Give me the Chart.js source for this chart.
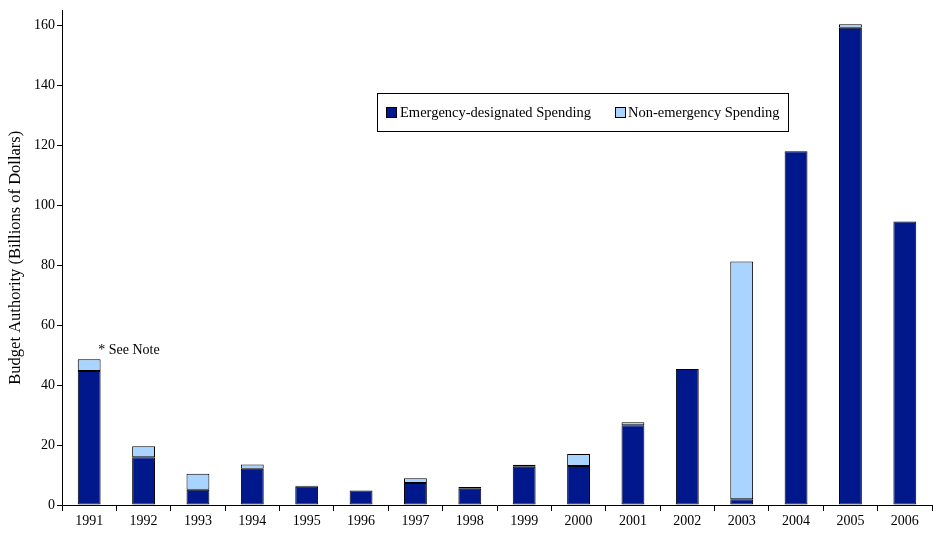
<!DOCTYPE html>
<html>
<head>
<meta charset="utf-8">
<script src="https://cdn.jsdelivr.net/npm/chart.js@4"></script>
<style>
html,body{margin:0;padding:0;background:#fff;}
#wrap{width:933px;height:533px;position:relative;}
</style>
</head>
<body>
<div id="wrap"><canvas id="c"></canvas></div>
<script>
const years = ['1991','1992','1993','1994','1995','1996','1997','1998','1999','2000','2001','2002','2003','2004','2005','2006'];
const emergency = [44.7, 15.9, 5.1, 12.1, 6.1, 4.8, 7.3, 5.4, 12.8, 13.0, 26.6, 45.4, 1.9, 118.0, 159.2, 94.6];
const nonEmergency = [3.9, 3.7, 5.3, 1.4, 0.3, 0, 1.6, 0.6, 0.6, 4.0, 1.0, 0, 79.3, 0, 1.2, 0];
const yTicks = [0, 20, 40, 60, 80, 100, 120, 140, 160];
const seriesNames = ['Emergency-designated Spending', 'Non-emergency Spending'];
const yTitle = 'Budget Authority (Billions of Dollars)';
const noteText = '* See Note';
const noteIndex = 0;

const FONT = '"Liberation Serif", "Times New Roman", serif';

const legendPlugin = {
  id: 'boxLegend',
  afterDraw(chart) {
    const ctx = chart.ctx;
    ctx.save();
    const bx = 377.5, by = 93.5, bw = 411, bh = 38;
    ctx.fillStyle = '#fff';
    ctx.fillRect(bx, by, bw, bh);
    ctx.strokeStyle = '#000';
    ctx.lineWidth = 1;
    ctx.strokeRect(bx, by, bw, bh);
    const items = [{sx: 386.5, tx: 400}, {sx: 615.5, tx: 628}];
    ctx.font = '14.5px ' + FONT;
    ctx.textBaseline = 'middle';
    chart.data.datasets.forEach((ds, i) => {
      const it = items[i];
      ctx.fillStyle = ds.backgroundColor;
      ctx.fillRect(it.sx, 107.5, 10, 10);
      ctx.strokeStyle = '#000';
      ctx.strokeRect(it.sx, 107.5, 10, 10);
      ctx.fillStyle = '#000';
      ctx.fillText(ds.label, it.tx, 113);
    });
    const xs = chart.scales.x, ys = chart.scales.y;
    const total = emergency[noteIndex] + nonEmergency[noteIndex];
    ctx.font = '14px ' + FONT;
    ctx.fillText(noteText, xs.getPixelForValue(noteIndex) + 9, ys.getPixelForValue(total) - 9);
    ctx.restore();
  }
};

new Chart(document.getElementById('c'), {
  type: 'bar',
  data: {
    labels: years,
    datasets: [
      {label: seriesNames[0], data: emergency, backgroundColor: '#00188c', borderColor: '#000', borderWidth: 1, borderSkipped: false},
      {label: seriesNames[1], data: nonEmergency, backgroundColor: '#a8d4ff', borderColor: '#000', borderWidth: 1, borderSkipped: false}
    ]
  },
  options: {
    responsive: true,
    maintainAspectRatio: false,
    animation: false,
    devicePixelRatio: 1,
    layout: {padding: {top: 10, right: 1, left: 0, bottom: 0}},
    datasets: {bar: {categoryPercentage: 1.0, barPercentage: 0.42}},
    plugins: {legend: {display: false}, tooltip: {enabled: false}},
    scales: {
      x: {
        stacked: true,
        border: {color: '#000', width: 1},
        grid: {display: true, drawOnChartArea: false, drawTicks: true, tickLength: 6, color: '#000', offset: true},
        ticks: {color: '#000', font: {family: FONT, size: 14}, padding: 2, maxRotation: 0, autoSkip: false},
        afterFit(s) { s.height = 28; }
      },
      y: {
        stacked: true,
        min: 0,
        max: 165,
        border: {color: '#000', width: 1},
        grid: {display: true, drawOnChartArea: false, drawTicks: true, tickLength: 5, color: '#000'},
        ticks: {color: '#000', font: {family: FONT, size: 14}, padding: 2, autoSkip: false},
        afterBuildTicks(s) { s.ticks = yTicks.map(v => ({value: v})); },
        title: {display: true, text: yTitle, color: '#000', font: {family: FONT, size: 16.5}, padding: {top: 6, bottom: 0}},
        afterFit(s) { s.width = 62; }
      }
    }
  },
  plugins: [legendPlugin]
});
</script>
</body>
</html>
